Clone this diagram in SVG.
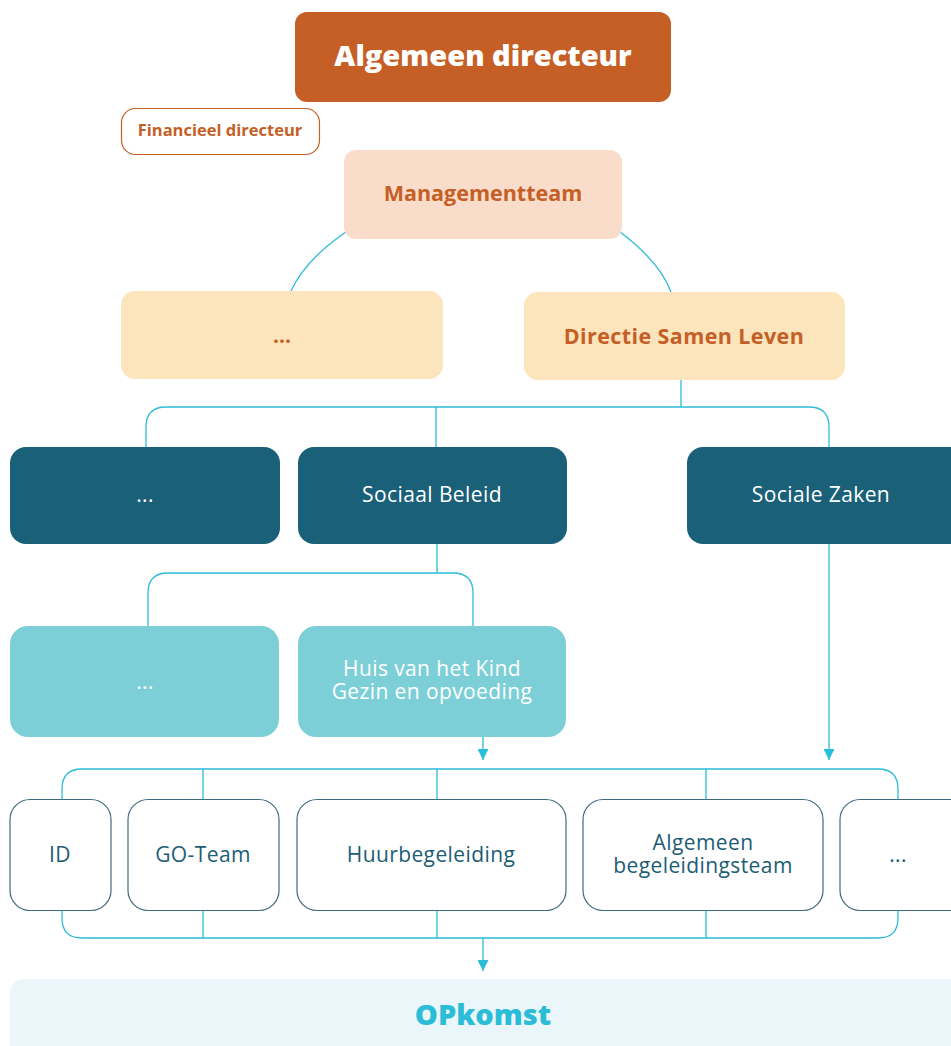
<svg xmlns="http://www.w3.org/2000/svg" width="951" height="1046" viewBox="0 0 951 1046">
<defs>
<style>
.t{font-family:"Open Sans","Liberation Sans",sans-serif;text-anchor:middle;}
.ob{font-weight:700;fill:#C55F26;}
.w{fill:#ffffff;font-size:21px;letter-spacing:0.4px;}
.d{fill:#1C5C74;font-size:21px;letter-spacing:0.4px;}
.c{fill:none;stroke:#2BBCD7;stroke-width:1.3;}
.bot{fill:#ffffff;stroke:#3E6B7E;stroke-width:1.2;}
</style>
<marker id="ah" viewBox="0 0 10 10" refX="10" refY="5" markerWidth="18" markerHeight="11" markerUnits="userSpaceOnUse" orient="auto">
<path d="M0,0 L10,5 L0,10 Z" fill="#2BBCD7"/>
</marker>
</defs>
<rect width="951" height="1046" fill="#ffffff"/>
<g id="connectors">
<path class="c" d="M346,232 Q305,260 291,291"/>
<path class="c" d="M620,232 Q660,262 671,292"/>
<path class="c" d="M681,380 V407"/>
<path class="c" d="M146,447 V427 Q146,407 166,407 H809 Q829,407 829,427 V447"/>
<path class="c" d="M436,407 V447"/>
<path class="c" d="M437,544 V573"/>
<path class="c" d="M148,626 V593 Q148,573 168,573 H453 Q473,573 473,593 V626"/>
<path class="c" d="M483,737 V760" marker-end="url(#ah)"/>
<path class="c" d="M829,544 V760" marker-end="url(#ah)"/>
<path class="c" d="M62,799 V789 Q62,769 82,769 H878 Q898,769 898,789 V799"/>
<path class="c" d="M203,769 V799 M437,769 V799 M706,769 V799"/>
<path class="c" d="M62,910 V918 Q62,938 82,938 H878 Q898,938 898,918 V910"/>
<path class="c" d="M203,910 V938 M437,910 V938 M706,910 V938"/>
<path class="c" d="M483,938 V971" marker-end="url(#ah)"/>
</g>
<g id="algemeen-directeur">
<rect x="295" y="12" width="376" height="90" rx="12" fill="#C55F26"/>
<text class="t" x="483" y="66" font-size="29" font-weight="800" fill="#ffffff">Algemeen directeur</text>
</g>
<g id="financieel-directeur">
<rect x="121.5" y="108.5" width="198" height="46" rx="14" fill="#ffffff" stroke="#C55F26" stroke-width="1.2"/>
<text class="t ob" x="220" y="136" font-size="16.5">Financieel directeur</text>
</g>
<g id="managementteam">
<rect x="344" y="150" width="278" height="89" rx="12" fill="#FADCCB"/>
<text class="t ob" x="483" y="201" font-size="21.5">Managementteam</text>
</g>
<g id="directie-dots">
<rect x="121" y="291" width="322" height="88" rx="14" fill="#FCE4BC"/>
<text class="t ob" x="282" y="343" font-size="21">...</text>
</g>
<g id="directie-samen-leven">
<rect x="524" y="292" width="321" height="88" rx="14" fill="#FCE4BC"/>
<text class="t ob" x="684" y="344" font-size="21.5" letter-spacing="0.4">Directie Samen Leven</text>
</g>
<g id="afdeling-dots">
<rect x="10" y="447" width="270" height="97" rx="16" fill="#1A6079"/>
<text class="t w" x="145" y="502">...</text>
</g>
<g id="sociaal-beleid">
<rect x="298" y="447" width="269" height="97" rx="16" fill="#1A6079"/>
<text class="t w" x="432" y="502">Sociaal Beleid</text>
</g>
<g id="sociale-zaken">
<rect x="687" y="447" width="280" height="97" rx="16" fill="#1A6079"/>
<text class="t w" x="821" y="502">Sociale Zaken</text>
</g>
<g id="dienst-dots">
<rect x="10" y="626" width="269" height="111" rx="18" fill="#7DCFD7"/>
<text class="t w" x="145" y="689">...</text>
</g>
<g id="huis-van-het-kind">
<rect x="298" y="626" width="268" height="111" rx="18" fill="#7DCFD7"/>
<text class="t w" x="432" y="676">Huis van het Kind</text>
<text class="t w" x="432" y="699">Gezin en opvoeding</text>
</g>
<g id="id">
<rect class="bot" x="10" y="799.5" width="101" height="111" rx="20"/>
<text class="t d" x="60" y="862">ID</text>
</g>
<g id="go-team">
<rect class="bot" x="128" y="799.5" width="151" height="111" rx="20"/>
<text class="t d" x="203" y="862">GO-Team</text>
</g>
<g id="huurbegeleiding">
<rect class="bot" x="297" y="799.5" width="269" height="111" rx="20"/>
<text class="t d" x="431" y="862">Huurbegeleiding</text>
</g>
<g id="algemeen-begeleidingsteam">
<rect class="bot" x="583" y="799.5" width="240" height="111" rx="20"/>
<text class="t d" x="703" y="850">Algemeen</text>
<text class="t d" x="703" y="873">begeleidingsteam</text>
</g>
<g id="team-dots">
<rect class="bot" x="840" y="799.5" width="130" height="111" rx="20"/>
<text class="t d" x="898" y="862">...</text>
</g>
<g id="opkomst">
<rect x="10" y="979" width="960" height="80" rx="14" fill="#EAF6F9"/>
<text class="t" x="483" y="1025" font-size="29" font-weight="800" fill="#2BBCD7">OPkomst</text>
</g>
</svg>
